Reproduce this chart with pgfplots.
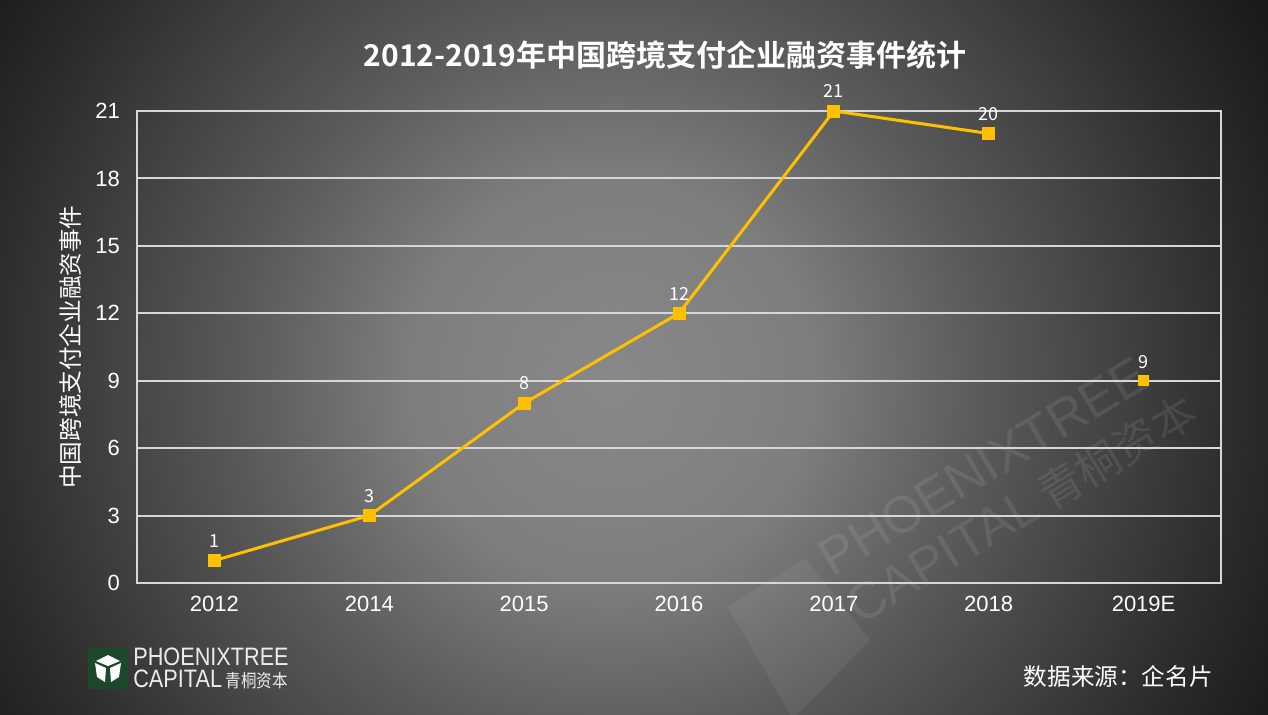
\documentclass[border=0pt]{standalone}
\usepackage{pgfplots}
\pgfplotsset{compat=1.18}
\usepackage{fontspec}
\setmainfont{Liberation Sans}
\newfontfamily\cjk[BoldFont={Noto Sans CJK SC Bold}]{Noto Sans CJK SC}
\definecolor{lineyellow}{RGB}{255,192,0}
\definecolor{gridc}{RGB}{215,215,215}
\definecolor{logogreen}{RGB}{28,72,44}
\definecolor{bgA}{RGB}{136,136,136}
\definecolor{bgB}{RGB}{126,126,126}
\definecolor{bgC}{RGB}{96,96,96}
\definecolor{bgD}{RGB}{88,88,88}
\definecolor{bgE}{RGB}{45,45,45}
\definecolor{bgF}{RGB}{28,28,28}
\definecolor{bgG}{RGB}{22,22,22}
\pgfdeclareradialshading{bgsh}{\pgfpoint{0bp}{0bp}}{color(0bp)=(bgA); color(100bp)=(bgB); color(170bp)=(bgC); color(190bp)=(bgD); color(310bp)=(bgE); color(365bp)=(bgF); color(400bp)=(bgG)}
\begin{document}
\begin{tikzpicture}[x=0.5pt,y=0.5pt]
\begin{scope}
\clip (0,0) rectangle (1268,714);
\node[inner sep=0, outer sep=0] at (612,334) {\pgfuseshading{bgsh}};
% watermark
\fill[white, opacity=0.06] (728,107) -- (805,156) -- (870,74) -- (793,-5) -- cycle;
\node[white, opacity=0.09, rotate=31, anchor=base west, inner sep=0, font=\fontsize{26}{28}\selectfont] at (832,136) {PHOENIXTREE};
\node[white, opacity=0.09, rotate=31, anchor=base west, inner sep=0, font=\fontsize{26}{28}\selectfont] at (860,88) {CAPITAL\,{\cjk\fontsize{22}{24}\selectfont 青桐资本}};
\end{scope}
% title
\node[white, font=\cjk\bfseries\fontsize{15}{17}\selectfont] at (665,659) {2012-2019年中国跨境支付企业融资事件统计};
% y label
\node[white, rotate=90, font=\cjk\fontsize{11.8}{13}\selectfont] at (70,367) {中国跨境支付企业融资事件};
% source
\node[white, anchor=east, inner sep=0, font=\cjk\fontsize{11.8}{13}\selectfont] at (1213,38) {数据来源：企名片};
% logo
\fill[logogreen] (88,25) rectangle (128,66);
\begin{scope}[shift={(88,25)}]
  \fill[white] (20,34) -- (8,28) -- (20,23) -- (32,28) -- cycle;
  \fill[white] (7,26) -- (18,21) -- (17,7) -- (9,12) -- cycle;
  \fill[white] (33,26) -- (22,21) -- (23,7) -- (31,12) -- cycle;
\end{scope}
\node[white!85!gray, anchor=west, inner sep=0, font=\fontsize{12.6}{14}\selectfont, xscale=0.86] at (133,57) {PHOENIXTREE};
\node[white!85!gray, anchor=west, inner sep=0, font=\fontsize{12.6}{14}\selectfont, xscale=0.86] at (133,35) {CAPITAL\,{\cjk\fontsize{9}{10}\selectfont 青桐资本}};
\begin{axis}[
  at={(68.5pt,65.5pt)}, anchor=south west,
  width=542pt, height=236pt, scale only axis,
  xmin=-0.5, xmax=6.5, ymin=0, ymax=21,
  xtick={0,...,6},
  xticklabels={2012,2014,2015,2016,2017,2018,2019E},
  ytick={0,3,6,9,12,15,18,21},
  ymajorgrids,
  grid style={draw=gridc, line width=1pt},
  axis line style={draw=gridc, line width=1pt},
  major tick style={draw=none},
  /pgf/number format/assume math mode=true,
  ticklabel style={white, font=\fontsize{11}{12}\selectfont},
  yticklabel style={xshift=-5pt},
  xticklabel style={yshift=-3pt},
  clip=false,
  nodes near coords,
  every node near coord/.append style={white, font=\cjk\fontsize{9}{10}\selectfont, yshift=2.5pt},
]
\addplot[lineyellow, line width=1.5pt, mark=square*, mark size=2.5pt, mark options={fill=lineyellow, draw=lineyellow}]
  coordinates {(0,1) (1,3) (2,8) (3,12) (4,21) (5,20)};
\addplot[only marks, lineyellow, mark=square*, mark size=2.5pt, mark options={fill=lineyellow, draw=lineyellow}]
  coordinates {(6,9)};
\end{axis}
\pgfresetboundingbox
\path[use as bounding box] (0,0) rectangle (1268,714);
\end{tikzpicture}
\end{document}
